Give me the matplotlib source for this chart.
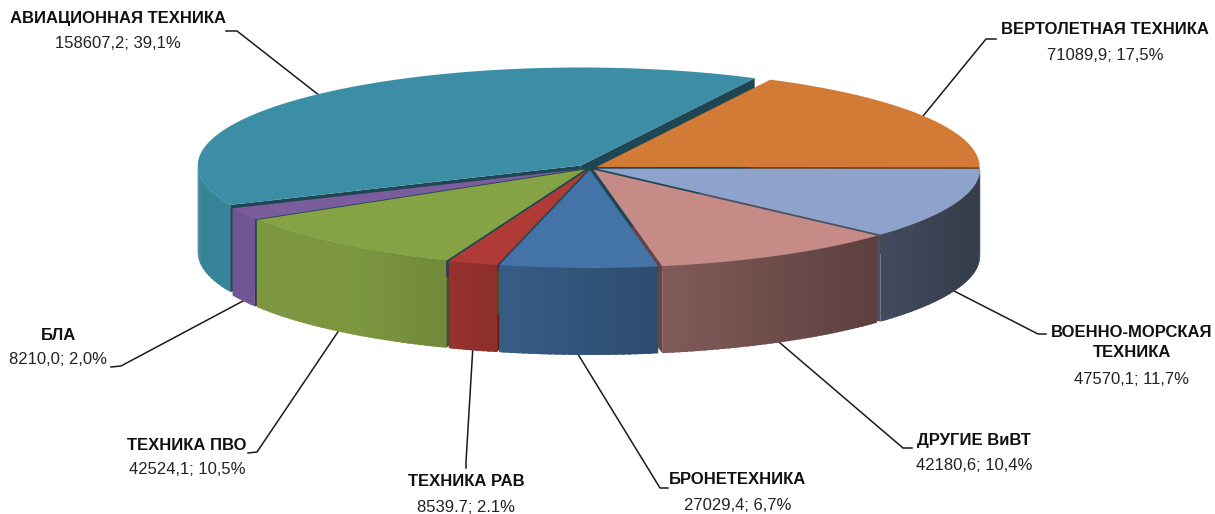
import numpy as np
import matplotlib.pyplot as plt
from matplotlib import font_manager
from matplotlib.patches import Polygon
from matplotlib.collections import PolyCollection
from matplotlib.colors import to_rgb

installed = {f.name for f in font_manager.fontManager.ttflist}
if 'Liberation Sans Narrow' in installed:
    font, fs = 'Liberation Sans Narrow', 14
else:
    font, fs = 'Liberation Sans', 12
plt.rcParams['font.family'] = [font, 'DejaVu Sans']

# данные (порядок по часовой стрелке, начиная с вертолетной техники)
categories = ['ВЕРТОЛЕТНАЯ ТЕХНИКА', 'ВОЕННО-МОРСКАЯ\nТЕХНИКА', 'ДРУГИЕ ВиВТ', 'БРОНЕТЕХНИКА',
              'ТЕХНИКА РАВ', 'ТЕХНИКА ПВО', 'БЛА', 'АВИАЦИОННАЯ ТЕХНИКА']
values = [71089.9, 47570.1, 42180.6, 27029.4, 8539.7, 42524.1, 8210.0, 158607.2]
dec_sep = [',', ',', ',', ',', '.', ',', ',', ',']
colors = ['#D27B36', '#8EA3CB', '#C68A87', '#4473A8', '#B03A36', '#85A245', '#7B5D9E', '#3B8EA5']
explode = [0.02, 0.02, 0.02, 0.02, 0.02, 0.02, 0.02, 0.035]

# расположение подписей: центр первой строки, конец выноски, излом выноски
label_pos = [(1105, 30), (1132, 330), (974, 440), (738, 480), (466, 482), (187, 445), (58, 335), (118, 18)]
leader_end = [(996, 39), (1046, 334), (912, 448), (668, 488), (466, 468), (248, 453), (111, 367), (226, 31)]
leader_elbow = [(986, 39), (1038, 334), (903, 448), (660, 488), (466, 462), (257, 452), (121, 366), (237, 31)]

cx, cy, rx, ry, depth = 590, 168, 383, 98, 87
start = 27.0

total = sum(values)
fracs = np.array(values) / total
edges = start + 360 * np.concatenate([[0], np.cumsum(fracs)])


def pt(theta, r, z, off):
    t = np.radians(theta)
    return (cx + off[0] + r * rx * np.sin(t), cy + off[1] - r * ry * np.cos(t) + z * depth)


def shade(c, f):
    return tuple(min(1.0, x * f) for x in to_rgb(c))


fig = plt.figure(figsize=(12.15, 5.14), dpi=100)
ax = fig.add_axes([0, 0, 1, 1])
ax.set_xlim(0, 1215)
ax.set_ylim(514, 0)
ax.axis('off')

offsets = []
for i in range(len(values)):
    mid = np.radians((edges[i] + edges[i + 1]) / 2)
    offsets.append((explode[i] * rx * np.sin(mid), -explode[i] * ry * np.cos(mid)))

# боковые радиальные грани
for i in range(len(values)):
    a1, a2 = edges[i], edges[i + 1]
    off = offsets[i]
    for a, vis in ((a1, np.sin(np.radians(a1)) < 0), (a2, np.sin(np.radians(a2)) > 0)):
        if vis:
            poly = [pt(a, 0, 0, off), pt(a, 1, 0, off), pt(a, 1, 1, off), pt(a, 0, 1, off)]
            ax.add_patch(Polygon(poly, closed=True, fc=shade(colors[i], 0.5), ec='none'))

# внешние стенки
walls = []
for i in range(len(values)):
    a1, a2 = edges[i], edges[i + 1]
    lo, hi = max(a1, 90), min(a2, 270)
    if hi <= lo:
        continue
    off = offsets[i]
    ts = np.linspace(lo, hi, int(hi - lo) + 2)
    polys, cols = [], []
    for t0, t1 in zip(ts[:-1], ts[1:]):
        t1e = min(t1 + 0.6, hi)
        f = np.clip(0.72 - 0.35 * np.sin(np.radians((t0 + t1) / 2)), 0.38, 0.93)
        polys.append([pt(t0, 1, 0, off), pt(t1e, 1, 0, off), pt(t1e, 1, 1, off), pt(t0, 1, 1, off)])
        cols.append(shade(colors[i], f))
    near = -np.cos(np.radians((lo + hi) / 2))
    walls.append((near, polys, cols))
for near, polys, cols in sorted(walls, key=lambda w: w[0]):
    ax.add_collection(PolyCollection(polys, facecolors=cols, edgecolors='none', linewidths=0))

# верхние поверхности
for i in range(len(values)):
    a1, a2 = edges[i], edges[i + 1]
    off = offsets[i]
    ts = np.linspace(a1, a2, int(a2 - a1) * 2 + 2)
    poly = [pt(a1, 0, 0, off)] + [pt(t, 1, 0, off) for t in ts]
    ax.add_patch(Polygon(poly, closed=True, fc=colors[i], ec='none'))

# подписи и выноски
for i in range(len(values)):
    mid = (edges[i] + edges[i + 1]) / 2
    z = 1 if 90 < mid < 270 else 0
    anchor = pt(mid, 1, z, offsets[i])
    ex, ey = leader_end[i]
    bx, by = leader_elbow[i]
    ax.plot([anchor[0], bx, ex], [anchor[1], by, ey], color='#1a1a1a', lw=1.1, zorder=0.5)

    x, y = label_pos[i]
    nlines = categories[i].count('\n') + 1
    ax.text(x, y + 12.5 * (nlines - 1), categories[i], ha='center', va='center',
            fontsize=fs, fontweight='bold', color='#111111', linespacing=1.45)
    pct = values[i] / total * 100
    txt = f'{values[i]:.1f}; {pct:.1f}%'.replace('.', dec_sep[i])
    ax.text(x, y + 24 * nlines + 1, txt, ha='center', va='center', fontsize=fs, color='#222222')

plt.savefig('out.png', dpi=100)
